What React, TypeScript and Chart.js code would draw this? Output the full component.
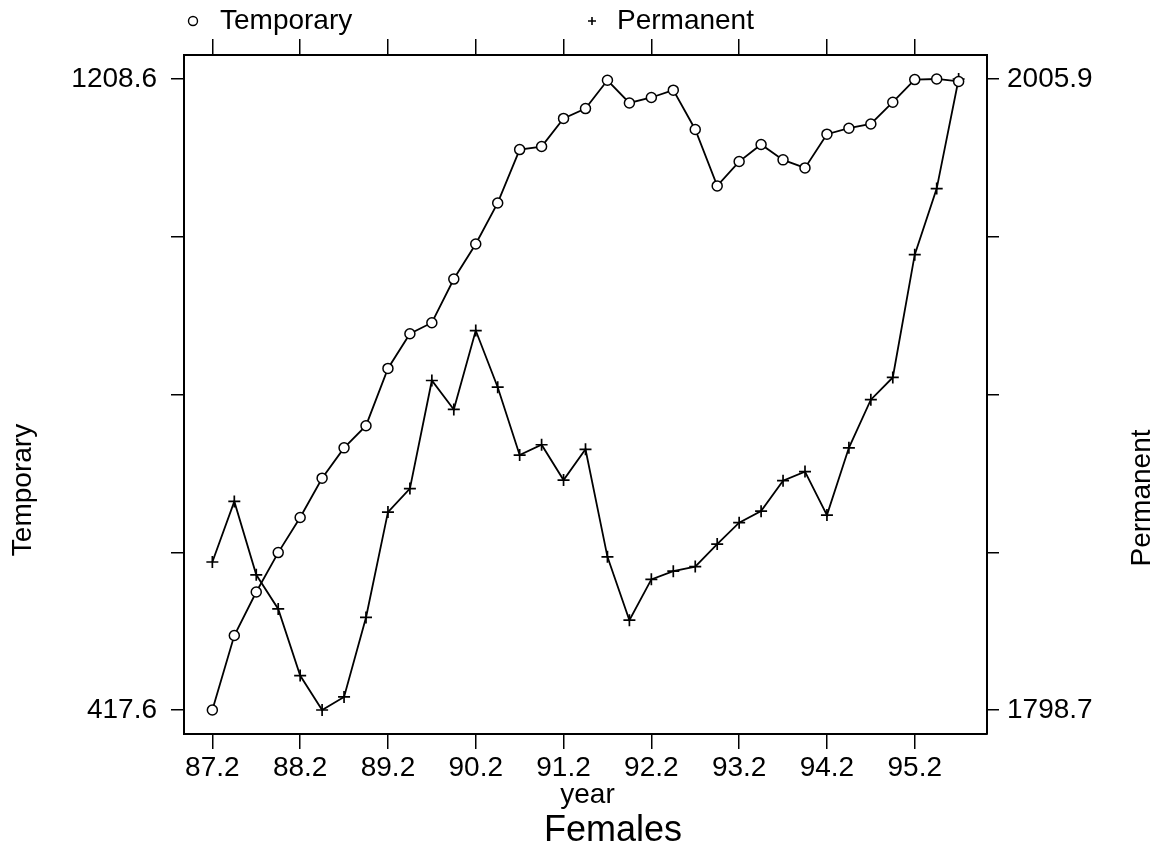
import { useEffect, useRef } from 'react';
import { Chart, registerables } from 'chart.js';

Chart.register(...registerables);

// ---- data ----
const periods = [
  '87.2', '87.3', '87.4',
  '88.1', '88.2', '88.3', '88.4',
  '89.1', '89.2', '89.3', '89.4',
  '90.1', '90.2', '90.3', '90.4',
  '91.1', '91.2', '91.3', '91.4',
  '92.1', '92.2', '92.3', '92.4',
  '93.1', '93.2', '93.3', '93.4',
  '94.1', '94.2', '94.3', '94.4',
  '95.1', '95.2', '95.3', '95.4',
];

const temporary = [
  417.6, 511.0, 565.5, 614.9, 658.9, 708.2, 746.2, 774.0, 845.8, 889.2,
  903.1, 957.8, 1001.8, 1053.2, 1120.1, 1123.9, 1159.2, 1171.5, 1207.0, 1178.5,
  1185.4, 1194.6, 1145.3, 1074.6, 1105.1, 1126.5, 1107.2, 1097.1, 1139.4, 1146.9,
  1152.2, 1179.5, 1207.8, 1208.6, 1205.5,
];

const permanent = [
  1847.3, 1867.2, 1843.1, 1831.9, 1810.0, 1798.7, 1803.0, 1829.1, 1863.7, 1871.4,
  1906.9, 1897.4, 1923.3, 1904.7, 1882.4, 1885.8, 1874.2, 1884.3, 1849.0, 1828.2,
  1841.6, 1844.3, 1845.8, 1853.2, 1860.2, 1864.0, 1874.0, 1877.0, 1862.7, 1884.8,
  1900.6, 1907.9, 1948.2, 1969.9, 2005.9,
];

const xTickLabels = ['87.2', '88.2', '89.2', '90.2', '91.2', '92.2', '93.2', '94.2', '95.2'];

const seriesNames = ['Temporary', 'Permanent'];
const xTitle = 'year';
const chartTitle = 'Females';

// ---- helpers ----
const FONT = "'Liberation Sans', Arial, sans-serif";
const PAD = 0.038;

const tMin = Math.min(...temporary);
const tMax = Math.max(...temporary);
const pMin = Math.min(...permanent);
const pMax = Math.max(...permanent);
const tPad = (tMax - tMin) * PAD;
const pPad = (pMax - pMin) * PAD;
const xPad = (periods.length - 1) * PAD;

const xTickPositions = xTickLabels.map((l) => periods.indexOf(l));

const fiveTicks = (lo: number, hi: number) =>
  [0, 1, 2, 3, 4].map((k) => ({ value: lo + ((hi - lo) * k) / 4 }));

export default function App() {
  const ref = useRef<HTMLCanvasElement>(null);

  useEffect(() => {
    const canvas = ref.current;
    if (!canvas) return;

    const textPlugin = {
      id: 'customTexts',
      afterDraw(chart: any) {
        const ctx = chart.ctx as CanvasRenderingContext2D;
        const area = chart.chartArea;
        ctx.save();
        ctx.fillStyle = '#000';
        ctx.strokeStyle = '#000';
        ctx.lineWidth = 1.4;

        // legend
        const ly = 21;
        ctx.beginPath();
        ctx.arc(area.left + 9, ly, 4.5, 0, Math.PI * 2);
        ctx.stroke();
        ctx.font = `28px ${FONT}`;
        ctx.textAlign = 'left';
        ctx.textBaseline = 'middle';
        ctx.fillText(seriesNames[0], area.left + 36, ly);

        const cx = area.left + 408;
        ctx.lineWidth = 1.6;
        ctx.beginPath();
        ctx.moveTo(cx - 4, ly);
        ctx.lineTo(cx + 4, ly);
        ctx.moveTo(cx, ly - 4);
        ctx.lineTo(cx, ly + 4);
        ctx.stroke();
        ctx.fillText(seriesNames[1], cx + 25, ly);

        // y titles
        ctx.textAlign = 'center';
        ctx.save();
        ctx.translate(23, 490);
        ctx.rotate(-Math.PI / 2);
        ctx.fillText(seriesNames[0], 0, 0);
        ctx.restore();

        ctx.save();
        ctx.translate(1142, 498);
        ctx.rotate(-Math.PI / 2);
        ctx.fillText(seriesNames[1], 0, 0);
        ctx.restore();

        // x title
        ctx.textBaseline = 'alphabetic';
        ctx.fillText(xTitle, (area.left + area.right) / 2 + 2, 803);
        ctx.font = `36px ${FONT}`;
        ctx.fillText(chartTitle, 613, 841);
        ctx.restore();
      },
    };

    const tickFont = { family: FONT, size: 28 };

    const chart = new Chart(canvas, {
      type: 'line',
      data: {
        datasets: [
          {
            label: seriesNames[0],
            data: temporary.map((v, i) => ({ x: i, y: v })),
            xAxisID: 'x',
            yAxisID: 'y',
            borderColor: '#000',
            borderWidth: 1.8,
            pointStyle: 'circle',
            pointRadius: 5,
            pointBorderWidth: 1.5,
            pointBorderColor: '#000',
            pointBackgroundColor: '#fff',
            tension: 0,
            fill: false,
          },
          {
            label: seriesNames[1],
            data: permanent.map((v, i) => ({ x: i, y: v })),
            xAxisID: 'x',
            yAxisID: 'y1',
            borderColor: '#000',
            borderWidth: 1.8,
            pointStyle: 'cross',
            pointRadius: 6,
            pointBorderWidth: 1.7,
            pointBorderColor: '#000',
            tension: 0,
            fill: false,
          },
        ],
      },
      options: {
        responsive: false,
        animation: false,
        devicePixelRatio: 1,
        layout: { padding: 0 },
        plugins: {
          legend: { display: false },
          tooltip: { enabled: false },
        },
        scales: {
          x: {
            type: 'linear',
            position: 'bottom',
            min: -xPad,
            max: periods.length - 1 + xPad,
            afterBuildTicks: (s: any) => {
              s.ticks = xTickPositions.map((v) => ({ value: v }));
            },
            afterFit: (s: any) => {
              s.height = 115;
            },
            ticks: {
              autoSkip: false,
              maxRotation: 0,
              padding: 2,
              color: '#000',
              font: tickFont,
              callback: (v: any) => periods[Math.round(Number(v))] ?? '',
            },
            grid: { drawOnChartArea: false, tickLength: 15, color: '#000', lineWidth: 1.5 },
            border: { color: '#000', width: 2 },
          },
          x2: {
            type: 'linear',
            position: 'top',
            min: -xPad,
            max: periods.length - 1 + xPad,
            afterBuildTicks: (s: any) => {
              s.ticks = xTickPositions.map((v) => ({ value: v }));
            },
            afterFit: (s: any) => {
              s.height = 55;
            },
            ticks: { autoSkip: false, callback: () => '' },
            grid: { drawOnChartArea: false, tickLength: 16, color: '#000', lineWidth: 1.5 },
            border: { color: '#000', width: 2 },
          },
          y: {
            type: 'linear',
            position: 'left',
            min: tMin - tPad,
            max: tMax + tPad,
            afterBuildTicks: (s: any) => {
              s.ticks = fiveTicks(tMin, tMax);
            },
            afterFit: (s: any) => {
              s.width = 184;
            },
            ticks: {
              autoSkip: false,
              padding: 14,
              color: '#000',
              font: tickFont,
              callback: (v: any, i: number) => (i === 0 || i === 4 ? Number(v).toFixed(1) : ''),
            },
            grid: { drawOnChartArea: false, tickLength: 13, color: '#000', lineWidth: 1.5 },
            border: { color: '#000', width: 2 },
          },
          y1: {
            type: 'linear',
            position: 'right',
            min: pMin - pPad,
            max: pMax + pPad,
            afterBuildTicks: (s: any) => {
              s.ticks = fiveTicks(pMin, pMax);
            },
            afterFit: (s: any) => {
              s.width = 174;
            },
            ticks: {
              autoSkip: false,
              padding: 8,
              color: '#000',
              font: tickFont,
              callback: (v: any, i: number) => (i === 0 || i === 4 ? Number(v).toFixed(1) : ''),
            },
            grid: { drawOnChartArea: false, tickLength: 12, color: '#000', lineWidth: 1.5 },
            border: { color: '#000', width: 2 },
          },
        },
      },
      plugins: [textPlugin],
    } as any);

    return () => chart.destroy();
  }, []);

  return (
    <div style={{ position: 'absolute', left: 0, top: 0, width: 1161, height: 849, background: '#fff' }}>
      <canvas ref={ref} width={1161} height={849} style={{ display: 'block', width: 1161, height: 849 }} />
    </div>
  );
}
